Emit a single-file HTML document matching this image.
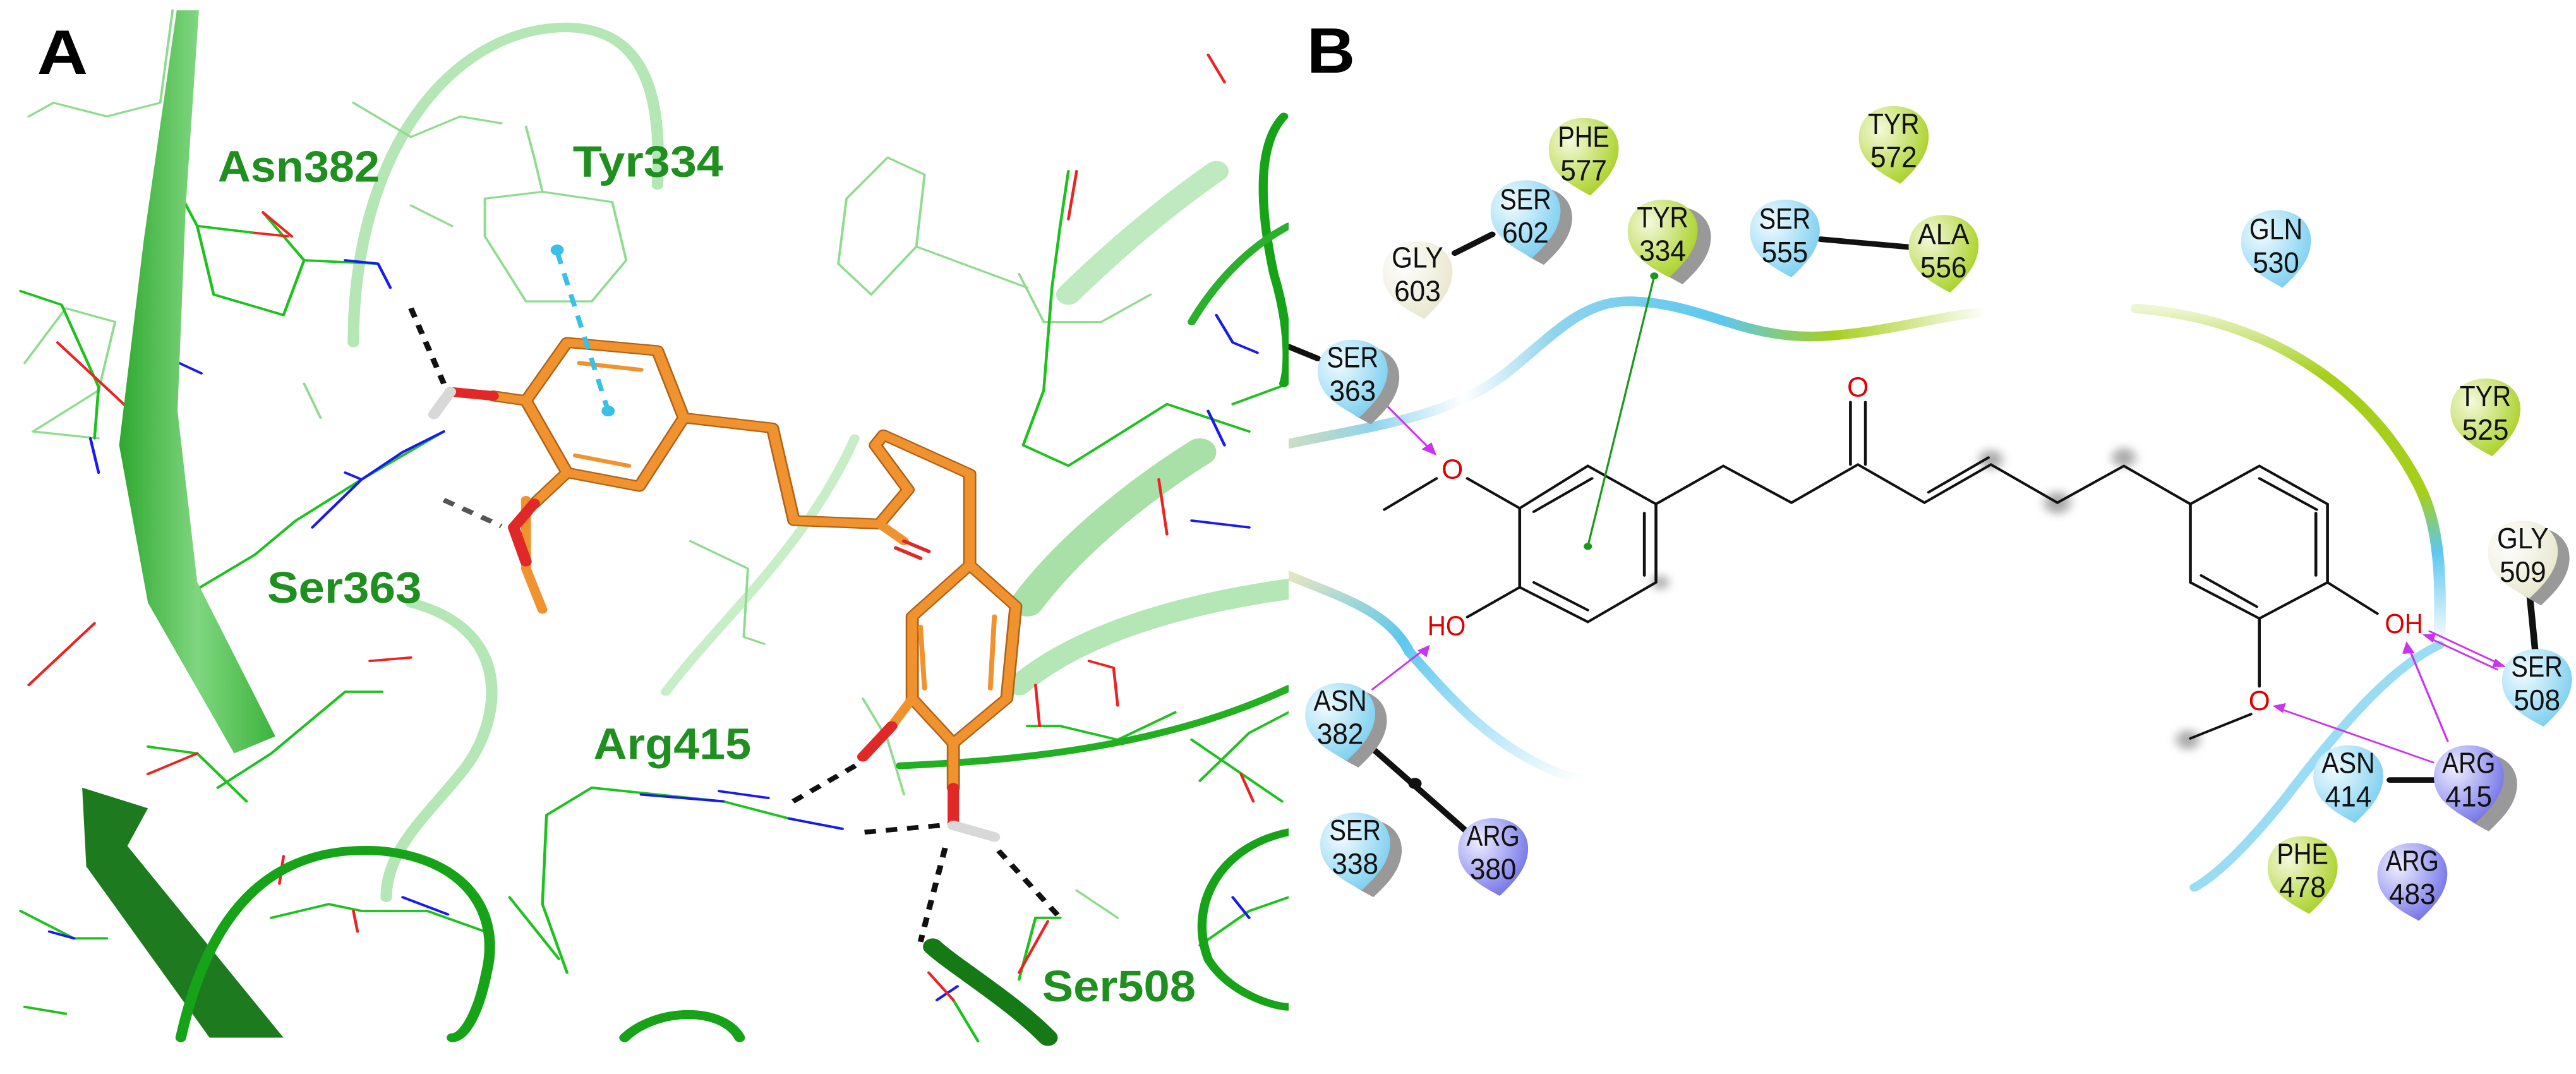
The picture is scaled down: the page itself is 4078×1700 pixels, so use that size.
<!DOCTYPE html>
<html><head><meta charset="utf-8"><style>
html,body{margin:0;padding:0;background:#fff;}
body{width:4078px;height:1700px;position:relative;overflow:hidden;}
svg{position:absolute;top:0;}
</style></head><body>
<svg style="left:0" width="2040" height="1700" viewBox="0 0 1568 1568" preserveAspectRatio="none">
<defs>
<linearGradient id="rib" x1="0" y1="0" x2="1" y2="0"><stop offset="0" stop-color="#2fa82f"/><stop offset="0.5" stop-color="#7fd67f"/><stop offset="1" stop-color="#3cb43c"/></linearGradient>
</defs>
<g fill="none" stroke-linecap="round" stroke-linejoin="round">
<!-- faint translucent loops -->
<path d="M430,500 C430,220 550,40 690,40 C790,42 805,150 800,270" stroke="#b5e6b5" stroke-width="14"/>
<path d="M500,880 C630,920 610,1060 560,1130 C520,1190 470,1240 470,1310" stroke="#b5e6b5" stroke-width="14"/>
<path d="M810,1010 C880,900 980,800 1040,640" stroke="#c8eec8" stroke-width="12"/>
<path d="M1250,880 C1300,800 1380,720 1460,660" stroke="#a8e0a8" stroke-width="40"/>
<path d="M1300,430 C1360,360 1420,300 1480,250" stroke="#bfe9bf" stroke-width="30"/>
<path d="M1240,1000 C1320,920 1450,880 1568,860" stroke="#b5e6b5" stroke-width="30"/>
<!-- thin light lines -->
<g stroke="#8fdc8f" stroke-width="3">
<path d="M35,170 L65,150 L130,170 L195,150 L210,15"/><path d="M30,530 L80,450 L140,470 L120,570 L40,630 L120,640"/>
<path d="M590,290 L660,280 L745,295 L762,380 L720,440 L640,440 L590,345 Z"/><path d="M660,280 L650,230 L640,185"/>
<path d="M1030,290 L1080,230 L1125,255 L1115,360 L1060,430 L1020,385 Z"/><path d="M1115,360 L1250,420"/>
<path d="M430,150 L500,200 L560,170 L610,180"/><path d="M500,300 L550,330"/><path d="M370,560 L390,610"/>
<path d="M840,790 L910,830 L905,930 L930,940"/><path d="M1050,1020 L1080,1080 L1100,1160"/>
<path d="M1240,400 L1270,470 L1340,470 L1400,430"/><path d="M1310,1300 L1360,1340"/>
</g>
<!-- solid green lines -->
<g stroke="#1ec21e" stroke-width="3.5">
<path d="M25,425 L75,445 L120,565 L115,640"/><path d="M200,240 L240,330 L260,430 L345,460 L370,380 L460,385"/>
<path d="M370,380 L320,310"/><path d="M240,330 L310,340"/><path d="M200,900 L240,860 L310,810 L360,760 L440,700 L540,630"/>
<path d="M265,1150 L330,1100 L380,1050 L420,1010 L465,1010"/><path d="M180,1090 L240,1100 L300,1170"/>
<path d="M665,1190 L720,1150 L880,1170 L960,1195 L1025,1210"/><path d="M665,1190 L660,1320 L690,1420"/>
<path d="M330,1340 L400,1320 L440,1330 L520,1330 L590,1360"/><path d="M620,1310 L680,1400"/>
<path d="M1300,250 L1290,330 L1280,420 L1270,570 L1245,650 L1300,680 L1420,590 L1520,630"/>
<path d="M1500,590 L1568,560"/><path d="M1460,1140 L1520,1070 L1568,1040"/>
<path d="M1250,1060 L1290,1060 L1360,1080 L1430,1040"/><path d="M1450,1080 L1560,1170"/>
<path d="M1240,1430 L1260,1340 L1290,1340"/><path d="M1460,1380 L1520,1330 L1568,1310"/>
<path d="M1190,1520 L1160,1460"/><path d="M25,1330 L90,1370 L130,1370"/><path d="M30,1470 L80,1480"/>
</g>
<!-- blue/red atoms -->
<g stroke="#1a1aee" stroke-width="3.5">
<path d="M420,380 L460,385 L475,420"/><path d="M440,700 L490,660 L540,630"/><path d="M380,770 L440,700 L420,690"/>
<path d="M110,640 L120,690"/><path d="M200,520 L245,545"/><path d="M225,960 L250,990 L280,980"/>
<path d="M780,1160 L880,1170"/><path d="M960,1195 L1025,1210"/><path d="M875,1155 L935,1165"/>
<path d="M1450,760 L1520,770"/><path d="M1480,460 L1500,500 L1530,515"/><path d="M1470,600 L1490,650"/>
<path d="M490,1310 L545,1335"/><path d="M60,1360 L90,1370"/><path d="M1500,1310 L1520,1340"/><path d="M1140,1460 L1165,1440"/>
</g>
<g stroke="#ee2222" stroke-width="3.5">
<path d="M320,310 L355,345"/><path d="M310,340 L350,345"/><path d="M70,500 L155,595"/><path d="M35,1000 L115,910"/>
<path d="M430,1330 L435,1360"/><path d="M180,1130 L240,1100"/><path d="M1260,1000 L1265,1060"/><path d="M1325,965 L1355,975 L1360,1030"/>
<path d="M1510,1130 L1525,1170"/><path d="M1470,80 L1490,120"/><path d="M1310,250 L1300,320"/><path d="M1410,700 L1420,780"/>
<path d="M1275,1345 L1240,1420"/><path d="M1130,1420 L1160,1460"/><path d="M450,965 L500,960"/><path d="M345,1250 L340,1290"/>
</g>
<!-- ribbons -->
<path d="M215,15 L242,15 L226,300 L216,600 L240,850 L335,1075 L285,1100 L180,880 L145,650 L175,350 Z" fill="url(#rib)" stroke="none"/>
<path d="M100,1150 L180,1180 L155,1235 L345,1515 L255,1515 L105,1265 Z" fill="#1e7a1e" stroke="none"/>
<path d="M220,1515 C260,1300 350,1235 460,1242 C565,1252 610,1330 592,1420 C582,1480 565,1515 550,1515" stroke="#17a317" stroke-width="13"/>
<path d="M760,1515 C800,1470 880,1470 900,1515" stroke="#17a317" stroke-width="13"/>
<path d="M1562,170 C1530,210 1532,300 1550,400 C1570,480 1568,540 1562,560" stroke="#17a317" stroke-width="11"/>
<path d="M1095,1118 C1200,1112 1400,1100 1568,1005" stroke="#22b022" stroke-width="10"/>
<path d="M1568,1215 C1485,1235 1445,1320 1470,1400 C1495,1450 1550,1470 1568,1470" stroke="#17a317" stroke-width="11"/>
<path d="M1135,1382 C1160,1410 1230,1460 1275,1515" stroke="#157a15" stroke-width="24"/>
<path d="M1568,330 C1520,360 1480,410 1450,470" stroke="#2ab02a" stroke-width="10"/>
<!-- ligand -->
<g stroke="#b0621a" stroke-width="16">
<path d="M690,500 L800,512 L832,610 L778,710 L690,690 L640,585 Z"/><path d="M832,610 L940,625 L966,760 L1070,765 L1105,715 L1065,650 L1075,635 L1180,692 L1180,825"/>
<path d="M1180,825 L1236,885 L1225,1020 L1160,1085 L1110,1020 L1110,900 Z"/><path d="M1160,1085 L1160,1150"/><path d="M690,690 L650,735"/><path d="M640,585 L600,578"/>
</g>
<g stroke="#f0922e" stroke-width="12">
<path d="M690,500 L800,512 L832,610 L778,710 L690,690 L640,585 Z"/><path d="M832,610 L940,625 L966,760 L1070,765 L1105,715 L1065,650 L1075,635 L1180,692 L1180,825"/>
<path d="M1180,825 L1236,885 L1225,1020 L1160,1085 L1110,1020 L1110,900 Z"/><path d="M1160,1085 L1160,1150"/><path d="M690,690 L650,735"/><path d="M640,585 L600,578"/>
<path d="M640,730 L640,830 L660,890"/><path d="M1110,1020 L1085,1060"/><path d="M1070,765 L1100,790"/>
</g>
<g stroke="#f0922e" stroke-width="6"><path d="M705,530 L780,540"/><path d="M700,665 L765,680"/><path d="M1120,915 L1125,1005"/><path d="M1210,900 L1205,1005"/></g>
<g stroke="#e02828" stroke-width="14"><path d="M600,578 L548,572"/><path d="M650,735 L625,770 L640,820"/><path d="M1085,1060 L1050,1105"/><path d="M1160,1150 L1160,1205"/></g>
<g stroke="#e02828" stroke-width="5"><path d="M1100,790 L1130,805"/><path d="M1090,800 L1120,815"/></g>
<g stroke="#d8d8d8" stroke-width="14"><path d="M548,572 L528,605"/><path d="M1160,1205 L1210,1222"/></g>
<!-- H-bonds -->
<g stroke="#111" stroke-width="7" stroke-dasharray="14,12" stroke-linecap="butt">
<path d="M500,450 L540,560"/><path d="M965,1170 L1045,1115"/><path d="M1052,1215 L1145,1205"/><path d="M1150,1238 L1120,1375"/><path d="M1215,1242 L1290,1340"/>
</g>
<path d="M540,730 L610,768" stroke="#555" stroke-width="7" stroke-dasharray="14,12" stroke-linecap="butt"/>
<path d="M678,368 L740,600" stroke="#39c0e8" stroke-width="6" stroke-dasharray="18,14" stroke-linecap="butt"/>
<circle cx="678" cy="365" r="8" fill="#39c0e8" stroke="none"/><circle cx="740" cy="600" r="8" fill="#39c0e8" stroke="none"/>
</g>
<g font-family="Liberation Sans, sans-serif" font-weight="bold" fill="#1f8f1f" font-size="64">
<text x="265" y="265" textLength="197" lengthAdjust="spacingAndGlyphs">Asn382</text>
<text x="697" y="258" textLength="183" lengthAdjust="spacingAndGlyphs">Tyr334</text>
<text x="325" y="880" textLength="188" lengthAdjust="spacingAndGlyphs">Ser363</text>
<text x="722" y="1108" textLength="192" lengthAdjust="spacingAndGlyphs">Arg415</text>
<text x="1268" y="1462" textLength="187" lengthAdjust="spacingAndGlyphs">Ser508</text>
</g>
<text x="45" y="108" font-family="Liberation Sans, sans-serif" font-weight="bold" font-size="92" fill="#000" textLength="62" lengthAdjust="spacingAndGlyphs">A</text>
</svg>

<svg style="left:2040px" width="2038" height="1700" viewBox="0 0 1549 1549" preserveAspectRatio="none">
<defs>
<path id="d" d="M0,-52 C26,-52 44,-32 42,-4 C40,24 22,44 8,60 C-14,46 -42,28 -42,-6 C-42,-34 -24,-52 0,-52Z"/>
<radialGradient id="gb" cx="0.3" cy="0.3" r="0.8"><stop offset="0" stop-color="#f2fbff"/><stop offset="1" stop-color="#76cdef"/></radialGradient>
<radialGradient id="gg" cx="0.3" cy="0.3" r="0.8"><stop offset="0" stop-color="#f4f9dc"/><stop offset="1" stop-color="#a6cf1c"/></radialGradient>
<radialGradient id="gp" cx="0.3" cy="0.3" r="0.8"><stop offset="0" stop-color="#eeeeff"/><stop offset="1" stop-color="#6d6de8"/></radialGradient>
<radialGradient id="gc" cx="0.3" cy="0.3" r="0.8"><stop offset="0" stop-color="#ffffff"/><stop offset="1" stop-color="#e6e6cc"/></radialGradient>
<linearGradient id="top" x1="0" y1="0" x2="1" y2="0"><stop offset="0" stop-color="#a8c8a0" stop-opacity="0.6"/><stop offset="0.12" stop-color="#8fd4ee"/><stop offset="0.25" stop-color="#ffffff"/><stop offset="0.38" stop-color="#8fd4ee"/><stop offset="0.62" stop-color="#5cc7ee"/><stop offset="0.78" stop-color="#a6cf1c"/><stop offset="1" stop-color="#a6cf1c" stop-opacity="0"/></linearGradient>
<linearGradient id="rgt" x1="0" y1="0" x2="0" y2="1"><stop offset="0" stop-color="#a6cf1c" stop-opacity="0.2"/><stop offset="0.2" stop-color="#a6cf1c"/><stop offset="0.55" stop-color="#a6cf1c"/><stop offset="0.72" stop-color="#5cc7ee"/><stop offset="1" stop-color="#5cc7ee" stop-opacity="0"/></linearGradient>
<linearGradient id="low" x1="0" y1="0" x2="1" y2="1"><stop offset="0" stop-color="#e6e6c0"/><stop offset="0.35" stop-color="#5cc7ee"/><stop offset="1" stop-color="#5cc7ee" stop-opacity="0"/></linearGradient>
<filter id="bl"><feGaussianBlur stdDeviation="6"/></filter>
</defs>
<g fill="none" stroke-linecap="round">
<path d="M0,640 C120,610 200,600 270,530 C330,470 360,430 420,435 C500,440 550,490 640,485 C720,480 780,455 840,450" stroke="url(#top)" stroke-width="14"/>
<path d="M1020,445 C1180,460 1300,560 1360,700 C1390,770 1385,860 1385,930" stroke="url(#rgt)" stroke-width="14"/>
<path d="M1385,930 C1330,960 1270,1040 1200,1150 C1160,1210 1120,1260 1090,1280" stroke="#7fd3f0" stroke-width="12" opacity="0.8"/>
<path d="M0,830 C60,860 120,880 145,940 C190,1000 250,1090 350,1125" stroke="url(#low)" stroke-width="13"/>
</g>
<!-- halos -->
<g fill="#888" filter="url(#bl)" opacity="0.7"><circle cx="845" cy="663" r="14"/><circle cx="925" cy="725" r="16"/><circle cx="1005" cy="660" r="14"/><circle cx="447" cy="840" r="10"/><circle cx="1082" cy="1067" r="14"/></g>
<!-- molecule -->
<g stroke="#111" stroke-width="3.5" fill="none" stroke-linecap="round">
<path d="M360,672 L442,727 L442,840 L360,897 L278,847 L278,733 Z"/>
<path d="M365,690 L295,738 M428,740 L428,830 M295,840 L360,880"/>
<path d="M442,727 L523,672 L605,725 L685,670 L765,725 L845,670 L925,725 L1005,672 L1085,727"/>
<path d="M676,670 L676,580 M694,670 L694,580"/><path d="M770,710 L842,660"/>
<path d="M1085,727 L1168,672 L1250,727 L1250,840 L1168,892 L1085,840 Z"/>
<path d="M1168,690 L1237,735 M1236,740 L1236,830 M1098,830 L1165,875"/>
<path d="M1250,840 L1310,885 M1168,892 L1168,990 M1158,1030 L1085,1065"/>
<path d="M278,733 L215,690 M178,690 L115,735 M278,847 L215,890"/>
<!-- interactions -->
<path d="M200,365 L245,338" stroke-width="8"/><path d="M640,345 L752,357" stroke-width="8"/><path d="M1493,855 L1500,940" stroke-width="8"/>
<path d="M1325,1125 L1385,1125" stroke-width="8"/><path d="M90,1068 L215,1200" stroke-width="8"/><path d="M0,500 L35,517" stroke-width="8"/>
</g>
<circle cx="152" cy="1130" r="8" fill="#111"/>
<path d="M440,398 L360,788" stroke="#1a9a1a" stroke-width="2.5"/><circle cx="360" cy="788" r="5" fill="#1a9a1a"/><circle cx="440" cy="398" r="5" fill="#1a9a1a"/>
<g stroke="#cc33ee" stroke-width="2.5" fill="none">
<path d="M118,585 L172,650"/><path d="M100,995 L165,935"/><path d="M1395,1070 L1347,932"/><path d="M1378,1100 L1192,1022"/><path d="M1372,910 L1458,958"/><path d="M1455,966 L1372,920"/>
</g>
<g fill="#cc33ee">
<path d="M178,657 L160,648 L172,638Z"/><path d="M170,930 L166,948 L155,938Z"/><path d="M1345,925 L1355,942 L1340,943Z"/><path d="M1184,1018 L1200,1014 L1196,1028Z"/><path d="M1465,962 L1448,962 L1452,950Z"/><path d="M1364,915 L1380,914 L1377,927Z"/>
</g>
<g font-family="Liberation Sans, sans-serif" font-size="40" fill="#e00000">
<text x="685" y="572" text-anchor="middle" textLength="26" lengthAdjust="spacingAndGlyphs">O</text>
<text x="197" y="690" text-anchor="middle" textLength="26" lengthAdjust="spacingAndGlyphs">O</text>
<text x="190" y="916" text-anchor="middle" textLength="46" lengthAdjust="spacingAndGlyphs">HO</text>
<text x="1342" y="913" text-anchor="middle" textLength="46" lengthAdjust="spacingAndGlyphs">OH</text>
<text x="1168" y="1024" text-anchor="middle" textLength="26" lengthAdjust="spacingAndGlyphs">O</text>
</g>
<!-- residues -->
<g font-family="Liberation Sans, sans-serif" font-size="42" fill="#111" text-anchor="middle">
<g transform="translate(155,400)"><use href="#d" fill="url(#gc)"/><text y="-14" textLength="62" lengthAdjust="spacingAndGlyphs">GLY</text><text y="34" textLength="56" lengthAdjust="spacingAndGlyphs">603</text></g>
<g transform="translate(285,312)"><use href="#d" fill="#999" transform="translate(14,10)"/><use href="#d" fill="url(#gb)"/><text y="-10" textLength="62" lengthAdjust="spacingAndGlyphs">SER</text><text y="38" textLength="56" lengthAdjust="spacingAndGlyphs">602</text></g>
<g transform="translate(355,222)"><use href="#d" fill="url(#gg)"/><text y="-10" textLength="62" lengthAdjust="spacingAndGlyphs">PHE</text><text y="38" textLength="56" lengthAdjust="spacingAndGlyphs">577</text></g>
<g transform="translate(450,340)"><use href="#d" fill="#999" transform="translate(16,10)"/><use href="#d" fill="url(#gg)"/><text y="-12" textLength="62" lengthAdjust="spacingAndGlyphs">TYR</text><text y="36" textLength="56" lengthAdjust="spacingAndGlyphs">334</text></g>
<g transform="translate(597,340)"><use href="#d" fill="url(#gb)"/><text y="-10" textLength="62" lengthAdjust="spacingAndGlyphs">SER</text><text y="38" textLength="56" lengthAdjust="spacingAndGlyphs">555</text></g>
<g transform="translate(788,362)"><use href="#d" fill="url(#gg)"/><text y="-10" textLength="62" lengthAdjust="spacingAndGlyphs">ALA</text><text y="38" textLength="56" lengthAdjust="spacingAndGlyphs">556</text></g>
<g transform="translate(728,205)"><use href="#d" fill="url(#gg)"/><text y="-12" textLength="62" lengthAdjust="spacingAndGlyphs">TYR</text><text y="36" textLength="56" lengthAdjust="spacingAndGlyphs">572</text></g>
<g transform="translate(1188,355)"><use href="#d" fill="url(#gb)"/><text y="-10" textLength="64" lengthAdjust="spacingAndGlyphs">GLN</text><text y="38" textLength="56" lengthAdjust="spacingAndGlyphs">530</text></g>
<g transform="translate(77,542)"><use href="#d" fill="#999" transform="translate(14,10)"/><use href="#d" fill="url(#gb)"/><text y="-12" textLength="62" lengthAdjust="spacingAndGlyphs">SER</text><text y="36" textLength="56" lengthAdjust="spacingAndGlyphs">363</text></g>
<g transform="translate(1440,598)"><use href="#d" fill="url(#gg)"/><text y="-12" textLength="62" lengthAdjust="spacingAndGlyphs">TYR</text><text y="36" textLength="56" lengthAdjust="spacingAndGlyphs">525</text></g>
<g transform="translate(1485,803)"><use href="#d" fill="#999" transform="translate(14,10)"/><use href="#d" fill="url(#gc)"/><text y="-12" textLength="62" lengthAdjust="spacingAndGlyphs">GLY</text><text y="36" textLength="56" lengthAdjust="spacingAndGlyphs">509</text></g>
<g transform="translate(1502,988)"><use href="#d" fill="url(#gb)"/><text y="-12" textLength="62" lengthAdjust="spacingAndGlyphs">SER</text><text y="36" textLength="56" lengthAdjust="spacingAndGlyphs">508</text></g>
<g transform="translate(62,1037)"><use href="#d" fill="#999" transform="translate(14,10)"/><use href="#d" fill="url(#gb)"/><text y="-12" textLength="64" lengthAdjust="spacingAndGlyphs">ASN</text><text y="36" textLength="56" lengthAdjust="spacingAndGlyphs">382</text></g>
<g transform="translate(80,1224)"><use href="#d" fill="#999" transform="translate(14,10)"/><use href="#d" fill="url(#gb)"/><text y="-12" textLength="62" lengthAdjust="spacingAndGlyphs">SER</text><text y="36" textLength="56" lengthAdjust="spacingAndGlyphs">338</text></g>
<g transform="translate(246,1232)"><use href="#d" fill="url(#gp)"/><text y="-12" textLength="64" lengthAdjust="spacingAndGlyphs">ARG</text><text y="36" textLength="56" lengthAdjust="spacingAndGlyphs">380</text></g>
<g transform="translate(1275,1127)"><use href="#d" fill="url(#gb)"/><text y="-12" textLength="64" lengthAdjust="spacingAndGlyphs">ASN</text><text y="36" textLength="56" lengthAdjust="spacingAndGlyphs">414</text></g>
<g transform="translate(1420,1127)"><use href="#d" fill="#999" transform="translate(16,12)"/><use href="#d" fill="url(#gp)"/><text y="-12" textLength="64" lengthAdjust="spacingAndGlyphs">ARG</text><text y="36" textLength="56" lengthAdjust="spacingAndGlyphs">415</text></g>
<g transform="translate(1220,1258)"><use href="#d" fill="url(#gg)"/><text y="-12" textLength="62" lengthAdjust="spacingAndGlyphs">PHE</text><text y="36" textLength="56" lengthAdjust="spacingAndGlyphs">478</text></g>
<g transform="translate(1352,1268)"><use href="#d" fill="url(#gp)"/><text y="-12" textLength="64" lengthAdjust="spacingAndGlyphs">ARG</text><text y="36" textLength="56" lengthAdjust="spacingAndGlyphs">483</text></g>
</g>
<text x="22" y="105" font-family="Liberation Sans, sans-serif" font-weight="bold" font-size="92" fill="#000" textLength="58" lengthAdjust="spacingAndGlyphs">B</text>
</svg>
</body></html>
